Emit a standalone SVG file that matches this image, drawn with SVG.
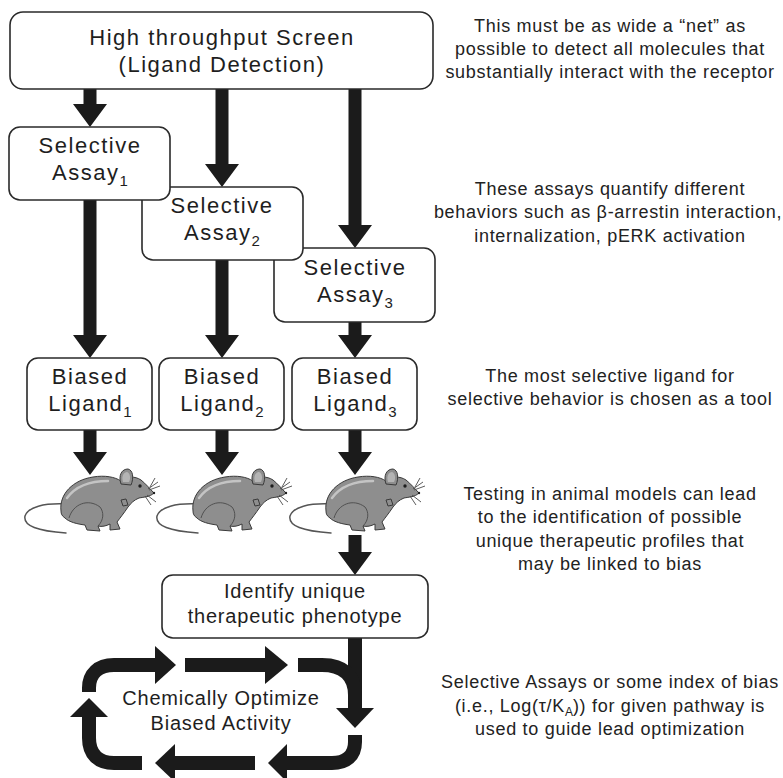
<svg xmlns="http://www.w3.org/2000/svg" xmlns:xlink="http://www.w3.org/1999/xlink" width="783" height="778" viewBox="0 0 783 778">
  <style>
    .box { fill: #ffffff; stroke: #2a2a2a; stroke-width: 1.6; }
    .lbl { font-family: "Liberation Sans", Arial, sans-serif; font-size: 22px; letter-spacing: 1.5px; fill: #1e1e1e; text-anchor: middle; }
    .lbl-sm { font-family: "Liberation Sans", Arial, sans-serif; font-size: 20px; letter-spacing: 0.8px; fill: #1e1e1e; text-anchor: middle; }
    .note { font-family: "Liberation Sans", Arial, sans-serif; font-size: 18px; letter-spacing: 0.7px; fill: #222222; text-anchor: middle; }
    .sub { font-size: 15px; letter-spacing: 0; }
    .sub-s { font-size: 12px; letter-spacing: 0; }
    .arrow { fill: #1b1b1b; }
    .flow { fill: none; stroke: #1b1b1b; stroke-width: 14; }
    .m-body { fill: #8e8e8e; stroke: #3a3a3a; stroke-width: 1; stroke-linejoin: round; }
    .m-line { fill: none; stroke: #4a4a4a; stroke-width: 0.9; }
    .m-hi { fill: none; stroke: #c4c4c4; stroke-width: 2.5; stroke-linecap: round; }
    .m-tail { fill: none; stroke: #555555; stroke-width: 1.5; stroke-linecap: round; }
  </style>
  <defs>
    <!-- reusable mouse drawing, placed under the first ligand column -->
    <g id="mouse-shape">
      <path class="m-tail" d="M 66 504 C 44 503, 28 507, 25 516 C 23 526, 38 531, 66 533"/>
      <path class="m-body" d="M 61 511 C 59 494, 73 480, 93 477 C 105 475, 115 477, 121 481 C 127 476, 135 476, 141 480 C 146 484, 150 489, 154 493 C 150 497, 144 497, 139 498 C 134 500, 131 503, 128 507 C 124 513, 120 518, 117 522 L 120 529 L 110 530 L 110 524 C 106 526, 102 527, 98 526 L 100 531 L 87 530 L 85 525 C 77 524, 69 522, 65 518 C 62 516, 61 514, 61 511 Z"/>
      <path class="m-hi" d="M 67 498 C 75 487, 89 481, 108 481"/>
      <path class="m-line" d="M 69 518 C 73 504, 88 498, 100 507 C 104 512, 104 520, 98 526"/>
      <path class="m-body" d="M 121 484 C 118 475, 122 469, 128 469 C 133 470, 134 478, 131 485 Z"/>
      <path fill="#b4b4b4" d="M 123 482 C 121 476, 124 472, 127 472 C 130 473, 131 478, 129 482 Z"/>
      <path class="m-body" d="M 121 500 L 126 499 L 128 505 L 123 506 Z"/>
      <circle cx="140" cy="486" r="1.7" fill="#1e1e1e"/>
      <circle cx="154" cy="493" r="1.2" fill="#1e1e1e"/>
      <path class="m-line" stroke-width="0.6" d="M 148 489 L 158 482 M 149 490 L 160 486 M 150 487 L 155 478 M 147 495 L 156 502 M 145 496 L 151 505"/>
    </g>
  </defs>

  <rect width="783" height="778" fill="#ffffff"/>

  <!-- connectors -->
  <g id="connectors">
    <polygon class="arrow" points="83.5,89 96.5,89 96.5,104 107,104 90,127 73,104 83.5,104"/>
    <polygon class="arrow" points="215.5,89 228.5,89 228.5,164 239,164 222,187 205,164 215.5,164"/>
    <polygon class="arrow" points="348.5,89 361.5,89 361.5,225 372,225 355,248 338,225 348.5,225"/>
    <polygon class="arrow" points="83.5,200 96.5,200 96.5,335 107,335 90,358 73,335 83.5,335"/>
    <polygon class="arrow" points="215.5,260 228.5,260 228.5,335 239,335 222,358 205,335 215.5,335"/>
    <polygon class="arrow" points="348.5,322 361.5,322 361.5,335 372,335 355,358 338,335 348.5,335"/>
    <polygon class="arrow" points="83.5,430 96.5,430 96.5,452 107,452 90,475 73,452 83.5,452"/>
    <polygon class="arrow" points="215.5,430 228.5,430 228.5,452 239,452 222,475 205,452 215.5,452"/>
    <polygon class="arrow" points="348.5,430 361.5,430 361.5,452 372,452 355,475 338,452 348.5,452"/>
    <polygon class="arrow" points="348.5,535 361.5,535 361.5,552 372,552 355,575 338,552 348.5,552"/>

    <!-- optimisation loop -->
    <path class="flow" d="M 355 638 L 355 709"/>
    <polygon class="arrow" points="336,708 374,708 355,728"/>
    <path class="flow" d="M 298 665 L 322 665 C 344 665, 355 676, 355 695"/>
    <path class="flow" d="M 89 692 L 89 688 C 89 674, 98 665, 114 665 L 156 665"/>
    <polygon class="arrow" points="155,646 176,665 155,684"/>
    <path class="flow" d="M 185 665 L 266 665"/>
    <polygon class="arrow" points="265,646 288,665 265,684"/>
    <path class="flow" d="M 355 735 L 355 742 C 355 756, 346 763, 332 763 L 286 763"/>
    <polygon class="arrow" points="287,744 268,763 287,782"/>
    <path class="flow" d="M 255 763 L 174 763"/>
    <polygon class="arrow" points="175,744 155,763 175,782"/>
    <path class="flow" d="M 142 763 L 114 763 C 98 763, 89 754, 89 738 L 89 716"/>
    <polygon class="arrow" points="70,717 89,698 108,717"/>
  </g>

  <!-- nodes -->
  <g id="screen">
    <rect class="box" x="10" y="12" width="423" height="77" rx="13"/>
    <text class="lbl" x="222" y="45">High throughput Screen</text>
    <text class="lbl" x="222" y="72">(Ligand Detection)</text>
  </g>

  <g id="assay-3">
    <rect class="box" x="274" y="248" width="161" height="74" rx="11"/>
    <text class="lbl" x="355" y="275">Selective</text>
    <text class="lbl" x="355" y="302">Assay<tspan class="sub" dy="6">3</tspan></text>
  </g>
  <g id="assay-2">
    <rect class="box" x="142" y="187" width="161" height="73" rx="11"/>
    <text class="lbl" x="222" y="213">Selective</text>
    <text class="lbl" x="222" y="240">Assay<tspan class="sub" dy="6">2</tspan></text>
  </g>
  <g id="assay-1">
    <rect class="box" x="9" y="127" width="161" height="73" rx="11"/>
    <text class="lbl" x="90" y="153">Selective</text>
    <text class="lbl" x="90" y="180">Assay<tspan class="sub" dy="6">1</tspan></text>
  </g>

  <g id="ligand-1">
    <rect class="box" x="27" y="358" width="125" height="72" rx="11"/>
    <text class="lbl" x="90" y="384">Biased</text>
    <text class="lbl" x="90" y="411">Ligand<tspan class="sub" dy="6">1</tspan></text>
  </g>
  <g id="ligand-2">
    <rect class="box" x="159" y="358" width="125" height="72" rx="11"/>
    <text class="lbl" x="222" y="384">Biased</text>
    <text class="lbl" x="222" y="411">Ligand<tspan class="sub" dy="6">2</tspan></text>
  </g>
  <g id="ligand-3">
    <rect class="box" x="292" y="358" width="125" height="72" rx="11"/>
    <text class="lbl" x="355" y="384">Biased</text>
    <text class="lbl" x="355" y="411">Ligand<tspan class="sub" dy="6">3</tspan></text>
  </g>

  <g id="mouse-1"><use href="#mouse-shape" xlink:href="#mouse-shape"/></g>
  <g id="mouse-2" transform="translate(132,0)"><use href="#mouse-shape" xlink:href="#mouse-shape"/></g>
  <g id="mouse-3" transform="translate(265,0)"><use href="#mouse-shape" xlink:href="#mouse-shape"/></g>

  <g id="phenotype">
    <rect class="box" x="162" y="575" width="266" height="63" rx="11"/>
    <text class="lbl-sm" x="295" y="598">Identify unique</text>
    <text class="lbl-sm" x="295" y="623">therapeutic phenotype</text>
  </g>

  <g id="optimize">
    <text class="lbl-sm" x="221" y="705" letter-spacing="0.7">Chemically Optimize</text>
    <text class="lbl-sm" x="221" y="730" letter-spacing="0.7">Biased Activity</text>
  </g>

  <!-- side notes -->
  <g id="notes">
    <text class="note" x="610" y="32">This must be as wide a “net” as</text>
    <text class="note" x="610" y="55">possible to detect all molecules that</text>
    <text class="note" x="610" y="78">substantially interact with the receptor</text>

    <text class="note" x="610" y="195">These assays quantify different</text>
    <text class="note" x="608" y="218">behaviors such as β-arrestin interaction,</text>
    <text class="note" x="610" y="242">internalization, pERK activation</text>

    <text class="note" x="610" y="382">The most selective ligand for</text>
    <text class="note" x="610" y="405">selective behavior is chosen as a tool</text>

    <text class="note" x="610" y="500">Testing in animal models can lead</text>
    <text class="note" x="610" y="523">to the identification of possible</text>
    <text class="note" x="610" y="547">unique therapeutic profiles that</text>
    <text class="note" x="610" y="570">may be linked to bias</text>

    <text class="note" x="610" y="688">Selective Assays or some index of bias</text>
    <text class="note" x="610" y="712">(i.e., Log(τ/K<tspan class="sub-s" dy="4">A</tspan><tspan dy="-4">)) for given pathway is</tspan></text>
    <text class="note" x="610" y="735">used to guide lead optimization</text>
  </g>
</svg>
